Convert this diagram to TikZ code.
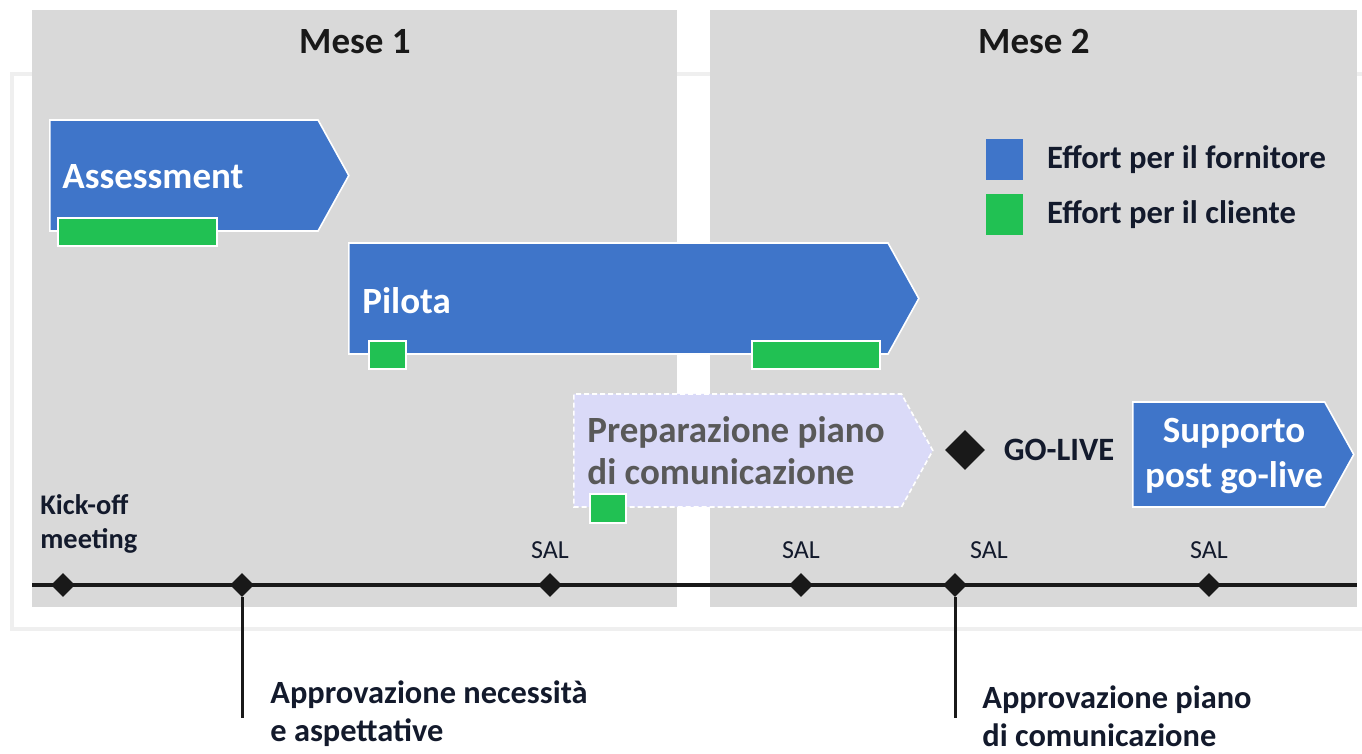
\documentclass[tikz,border=0pt]{standalone}
\usepackage{fontspec}
\setmainfont{Carlito}
\usepackage{tikz}
\usetikzlibrary{shapes.symbols}
\usetikzlibrary{shapes.geometric}
\usetikzlibrary{positioning}
\definecolor{panelgray}{HTML}{D9D9D9}
\definecolor{framegray}{HTML}{EFEFEF}
\definecolor{vendorblue}{HTML}{3F75C9}
\definecolor{clientgreen}{HTML}{21C153}
\definecolor{commlilac}{HTML}{DADAF8}
\definecolor{inkdark}{HTML}{131A2C}
\definecolor{greytext}{HTML}{595959}
\tikzstyle{month} = [rectangle, fill=panelgray, inner sep=0pt, anchor=north west]
\tikzstyle{monthtitle} = [font=\fontsize{18.5}{21}\selectfont\bfseries, text=black!90, inner sep=0pt]
\tikzstyle{phase} = [signal, signal to=east, signal pointer angle=122, fill=vendorblue, draw=white, line width=0.8pt, inner sep=0pt, anchor=west]
\tikzstyle{prep} = [phase, fill=commlilac, dash pattern=on 2.5pt off 1.5pt]
\tikzstyle{phasetext} = [font=\fontsize{18.5}{21}\selectfont\bfseries, text=white, anchor=west, align=left, inner sep=0pt]
\tikzstyle{effort} = [rectangle, fill=clientgreen, draw=white, line width=0.8pt, inner sep=0pt, anchor=north west, minimum height=14pt]
\tikzstyle{legendbox} = [rectangle, inner sep=0pt, minimum width=18.5pt, minimum height=20.5pt, anchor=north west]
\tikzstyle{legendtext} = [font=\fontsize{16.3}{18}\selectfont\bfseries, text=inkdark, inner sep=0pt]
\tikzstyle{milestone} = [diamond, fill=black!90, inner sep=0pt, minimum size=12pt]
\tikzstyle{saltext} = [font=\fontsize{13}{14}\selectfont, text=inkdark, inner sep=0pt]
\tikzstyle{notetext} = [font=\fontsize{16.2}{19}\selectfont\bfseries, text=inkdark, align=left, inner sep=0pt, anchor=west]
\tikzstyle{timeline} = [line width=2pt, black!90]
\tikzstyle{stem} = [line width=1.5pt, black!90]

\begin{document}
\begin{tikzpicture}[x=0.5pt, y=-0.5pt]
\useasboundingbox (0,0) rectangle (1362,754);

\draw [framegray, line width=2pt] (12,74) rectangle (1380,629);

\node [month, minimum width=322.5pt, minimum height=298.5pt] (mese_1) at (32,10) {};
\node [month, minimum width=323.5pt, minimum height=298.5pt] (mese_2) at (710,10) {};
\node [monthtitle] (mese_1_title) at ([yshift=-16pt]mese_1.north) {Mese 1};
\node [monthtitle] (mese_2_title) at ([yshift=-16pt]mese_2.north) {Mese 2};

\node [phase, minimum width=149.5pt, minimum height=55.5pt] (assessment) at (49,175.5) {};
\node [phasetext] (assessment_txt) at (62,177) {Assessment};
\node [effort, minimum width=79.5pt] (assessment_eff) at (57,217) {};

\node [phase, minimum width=285pt, minimum height=55.5pt] (pilota) at (348,298.5) {};
\node [phasetext] (pilota_txt) at (362,301) {Pilota};
\node [effort, minimum width=18.5pt] (pilota_eff_a) at (368,340) {};
\node [effort, minimum width=64pt] (pilota_eff_b) at (751,340) {};

\node [prep, minimum width=179.5pt, minimum height=56.5pt] (prep_com) at (573,450.5) {};
\node [phasetext, text=greytext] (prep_com_txt) at (587,451) {Preparazione piano\\di comunicazione};
\node [effort, minimum width=18pt, minimum height=14.5pt] (prep_com_eff) at (589,493) {};

\node [milestone, minimum size=20pt] (go_live) at (965,450) {};
\node [legendtext, right=9pt of go_live] (go_live_txt) {GO-LIVE};

\node [phase, minimum width=110.5pt, minimum height=52.5pt] (supporto) at (1132,454.5) {};
\node [phasetext, anchor=center, align=center, font=\fontsize{18.5}{22.5}\selectfont\bfseries] (supporto_txt) at (1234,456) {Supporto\\post go-live};

\node [legendbox, fill=vendorblue] (leg_vendor) at (986,139) {};
\node [legendbox, fill=clientgreen] (leg_client) at (986,194) {};
\node [legendtext, right=11.5pt of leg_vendor] (leg_vendor_txt) {Effort per il fornitore};
\node [legendtext, right=11.5pt of leg_client] (leg_client_txt) {Effort per il cliente};

\coordinate (tl_start) at (32,585);
\coordinate (tl_end) at (1357,585);
\draw [timeline] (tl_start) -- (tl_end);

\node [milestone] (ms_kickoff) at (63,585) {};
\node [milestone] (ms_approv_need) at (242,585) {};
\node [milestone] (ms_sal_1) at (550,585) {};
\node [milestone] (ms_sal_2) at (801,585) {};
\node [milestone] (ms_approv_plan) at (955,585) {};
\node [milestone] (ms_sal_4) at (1209,585) {};

\node [notetext, font=\fontsize{14.2}{17}\selectfont\bfseries] (kickoff_txt) at (40,524) {Kick-off\\meeting};
\node [saltext, above=7pt of ms_sal_1] (sal_1_txt) {SAL};
\node [saltext, above=7pt of ms_sal_2] (sal_2_txt) {SAL};
\node [saltext, above=7pt of ms_approv_plan, xshift=17pt] (sal_3_txt) {SAL};
\node [saltext, above=7pt of ms_sal_4] (sal_4_txt) {SAL};

\coordinate (stem_need_end) at (242,718);
\coordinate (stem_plan_end) at (955,718);
\draw [stem] (ms_approv_need) -- (stem_need_end);
\draw [stem] (ms_approv_plan) -- (stem_plan_end);
\node [notetext] (approv_need_txt) at (270,714) {Approvazione necessità\\e aspettative};
\node [notetext] (approv_plan_txt) at (982,716) {Approvazione piano\\di comunicazione};

\end{tikzpicture}
\end{document}
